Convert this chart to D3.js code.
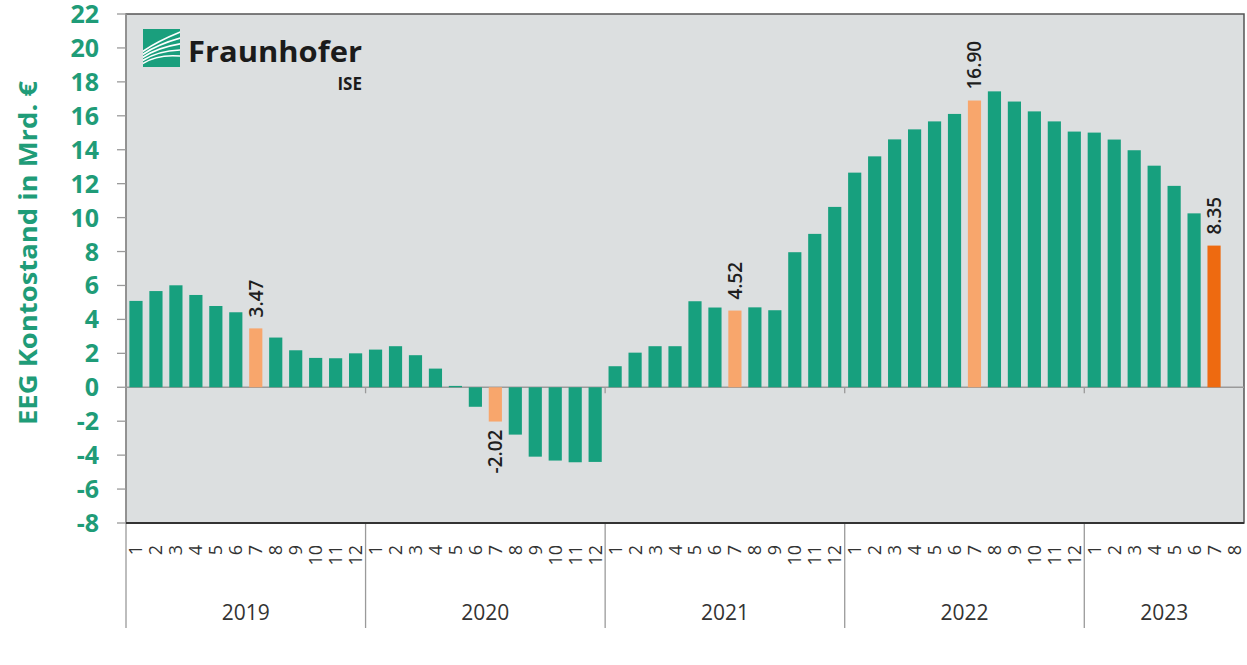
<!DOCTYPE html>
<html>
<head>
<meta charset="utf-8">
<script src="https://cdn.jsdelivr.net/npm/d3@7"></script>
<style>
  body { margin: 0; background: #fff; }
  text { font-family: "Open Sans", "Noto Sans", sans-serif; }
</style>
</head>
<body>
<script>
// EEG account balance per month, bn EUR
var years = [2019, 2020, 2021, 2022, 2023]
var monthsPerYear = [12, 12, 12, 12, 8]
var values = [
  5.09, 5.67, 6.01, 5.44, 4.79, 4.42, 3.47, 2.93, 2.18, 1.73, 1.71, 2.00,   // 2019
  2.22, 2.42, 1.89, 1.10, 0.08, -1.15, -2.02, -2.79, -4.09, -4.32, -4.42, -4.40, // 2020
  1.24, 2.04, 2.42, 2.42, 5.07, 4.70, 4.52, 4.71, 4.54, 7.96, 9.04, 10.63, // 2021
  12.65, 13.61, 14.61, 15.20, 15.67, 16.11, 16.90, 17.44, 16.84, 16.26, 15.67, 15.07, // 2022
  15.01, 14.60, 13.97, 13.06, 11.87, 10.25, 8.35 // 2023 (month 8 not yet)
]
var labelled = ["2019-7", "2020-7", "2021-7", "2022-7", "2023-7"]
var latest = "2023-7"
var yTicks = d3.range(-8, 23, 2)

var width = 1247, height = 665
var x0 = 126, x1 = 1244, yTop = 14, yBot = 523

var slots = []
years.forEach(function(y, i) {
  for (var m = 1; m <= monthsPerYear[i]; m++) slots.push({ year: y, month: m, key: y + "-" + m })
})
slots.forEach(function(s, i) { s.value = i < values.length ? values[i] : null })

var x = d3.scaleBand()
  .domain(slots.map(function(s) { return s.key }))
  .range([x0, x1])
  .paddingInner(0.34)
  .paddingOuter(0.17)

var y = d3.scaleLinear().domain([-8, 22]).range([yBot, yTop])

var fmt = function(v) { return d3.format(".2f")(v).replace("−", "-") }

var svg = d3.select("body").append("svg")
  .attr("width", width)
  .attr("height", height)

// plot area
svg.append("rect")
  .attr("x", x0).attr("y", yTop)
  .attr("width", x1 - x0).attr("height", yBot - yTop)
  .attr("fill", "#dcdfe0")
  .attr("stroke", "#555").attr("stroke-width", 1.5)

// logo
var logo = svg.append("g").attr("transform", "translate(143,29)")
logo.append("clipPath").attr("id", "logoClip")
  .append("rect").attr("width", 37).attr("height", 38)
logo.append("rect").attr("width", 37).attr("height", 38).attr("fill", "#1a9f7d")
var arcs = [[0.62, 0.05], [0.7, 0.22], [0.78, 0.38], [0.86, 0.55], [0.94, 0.72]]
logo.append("g").attr("clip-path", "url(#logoClip)")
  .selectAll("path")
  .data(arcs)
  .enter()
  .append("path")
  .attr("d", function(a) {
    return "M-2," + (38 * a[0]) + " Q" + 14 + "," + (38 * (a[0] - 0.3)) + " 40," + (38 * a[1])
  })
  .attr("fill", "none")
  .attr("stroke", "#fff")
  .attr("stroke-width", 1.6)
svg.append("text")
  .attr("x", 188).attr("y", 62)
  .attr("font-size", 28).attr("font-weight", 700)
  .attr("textLength", 174).attr("lengthAdjust", "spacingAndGlyphs")
  .attr("fill", "#1b1b1b")
  .text("Fraunhofer")
svg.append("text")
  .attr("x", 362).attr("y", 90)
  .attr("text-anchor", "end")
  .attr("font-size", 17).attr("font-weight", 700)
  .attr("fill", "#1b1b1b")
  .text("ISE")

// zero line
svg.append("line")
  .attr("x1", x0).attr("x2", x1)
  .attr("y1", y(0)).attr("y2", y(0))
  .attr("stroke", "#9a9a9a").attr("stroke-width", 1.3)

// bars
svg.selectAll(".bar")
  .data(slots.filter(function(s) { return s.value !== null }))
  .enter()
  .append("rect")
  .attr("class", "bar")
  .attr("x", function(s) { return x(s.key) })
  .attr("width", x.bandwidth())
  .attr("y", function(s) { return y(Math.max(0, s.value)) })
  .attr("height", function(s) { return Math.abs(y(s.value) - y(0)) })
  .attr("fill", function(s) {
    if (s.key === latest) return "#ee6a10"
    if (labelled.indexOf(s.key) >= 0) return "#f8a66c"
    return "#17a07e"
  })

// value labels
svg.selectAll(".valLabel")
  .data(slots.filter(function(s) { return labelled.indexOf(s.key) >= 0 }))
  .enter()
  .append("text")
  .attr("class", "valLabel")
  .attr("transform", function(s) {
    var cx = x(s.key) + x.bandwidth() / 2
    var cy = s.value >= 0 ? y(s.value) - 11 : y(s.value) + 8
    return "translate(" + cx + "," + cy + ") rotate(-90)"
  })
  .attr("text-anchor", function(s) { return s.value >= 0 ? "start" : "end" })
  .attr("dy", "0.36em")
  .attr("font-size", 19).attr("font-weight", 600)
  .attr("fill", "#1e1e1e")
  .text(function(s) { return fmt(s.value) })

// y axis
svg.append("line")
  .attr("x1", x0).attr("x2", x0)
  .attr("y1", yTop).attr("y2", yBot)
  .attr("stroke", "#9a9a9a").attr("stroke-width", 1.5)
svg.selectAll(".yTick")
  .data(yTicks)
  .enter()
  .append("line")
  .attr("class", "yTick")
  .attr("x1", x0 - 9).attr("x2", x0)
  .attr("y1", function(d) { return y(d) }).attr("y2", function(d) { return y(d) })
  .attr("stroke", "#9a9a9a").attr("stroke-width", 1.3)
svg.selectAll(".yLabel")
  .data(yTicks)
  .enter()
  .append("text")
  .attr("class", "yLabel")
  .attr("x", 99).attr("y", function(d) { return y(d) })
  .attr("dy", "0.36em")
  .attr("text-anchor", "end")
  .attr("font-size", 25).attr("font-weight", 700)
  .attr("fill", "#1f9c78")
  .text(function(d) { return d })

svg.append("text")
  .attr("transform", "translate(28,253) rotate(-90)")
  .attr("text-anchor", "middle")
  .attr("dy", "0.36em")
  .attr("font-size", 25).attr("font-weight", 700)
  .attr("textLength", 344).attr("lengthAdjust", "spacingAndGlyphs")
  .attr("fill", "#1f9c78")
  .text("EEG Kontostand in Mrd. €")

// x axis: months
svg.selectAll(".mLabel")
  .data(slots)
  .enter()
  .append("text")
  .attr("class", "mLabel")
  .attr("transform", function(s) {
    return "translate(" + (x(s.key) + x.bandwidth() / 2) + ",545) rotate(-90)"
  })
  .attr("text-anchor", "end")
  .attr("dy", "0.36em")
  .attr("font-size", 18)
  .attr("fill", "#333")
  .text(function(s) { return s.month })

// x axis: years and separators
var yearBounds = years.map(function(yr) {
  var ks = slots.filter(function(s) { return s.year === yr })
  var a = x(ks[0].key) - x.step() * x.paddingInner() / 2
  var b = x(ks[ks.length - 1].key) + x.bandwidth() + x.step() * x.paddingInner() / 2
  return { year: yr, a: a, b: Math.min(b, x1) }
})
yearBounds[0].a = x0
yearBounds[yearBounds.length - 1].b = x1

svg.selectAll(".sep")
  .data(yearBounds)
  .enter()
  .append("line")
  .attr("class", "sep")
  .attr("x1", function(d) { return d.a }).attr("x2", function(d) { return d.a })
  .attr("y1", yBot).attr("y2", 628)
  .attr("stroke", "#9a9a9a").attr("stroke-width", 1.3)

svg.selectAll(".zTick")
  .data(yearBounds.slice(1))
  .enter()
  .append("line")
  .attr("class", "zTick")
  .attr("x1", function(d) { return d.a }).attr("x2", function(d) { return d.a })
  .attr("y1", y(0)).attr("y2", y(0) + 6)
  .attr("stroke", "#9a9a9a").attr("stroke-width", 1.3)

svg.selectAll(".yrLabel")
  .data(yearBounds)
  .enter()
  .append("text")
  .attr("class", "yrLabel")
  .attr("x", function(d) { return (d.a + d.b) / 2 })
  .attr("y", 620)
  .attr("text-anchor", "middle")
  .attr("font-size", 21)
  .attr("fill", "#333")
  .text(function(d) { return d.year })

// bottom border on top of everything
svg.append("line")
  .attr("x1", x0).attr("x2", x1)
  .attr("y1", yBot).attr("y2", yBot)
  .attr("stroke", "#333").attr("stroke-width", 1.8)
</script>
</body>
</html>
